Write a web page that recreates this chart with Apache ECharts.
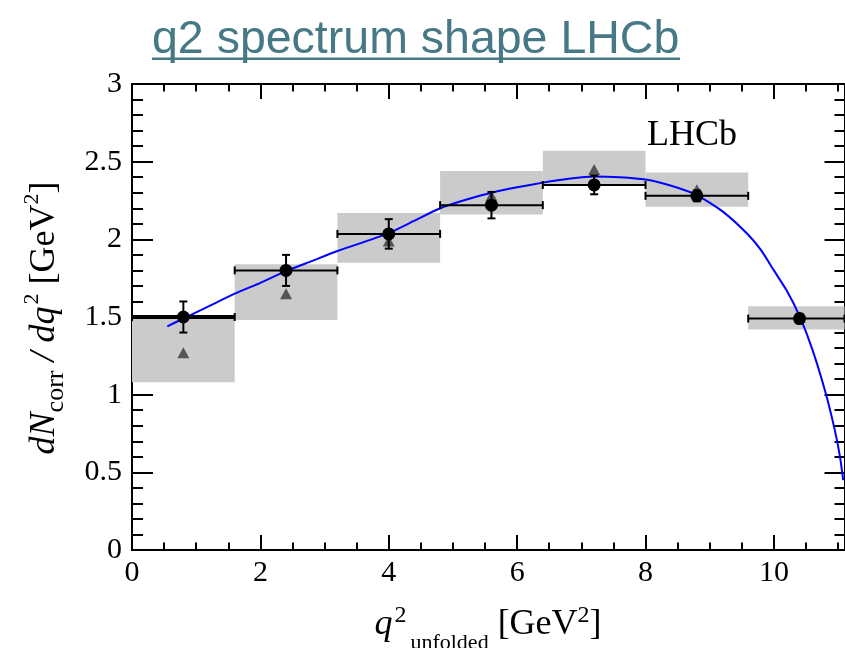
<!DOCTYPE html>
<html>
<head>
<meta charset="utf-8">
<script src="https://cdn.jsdelivr.net/npm/echarts@6/dist/echarts.min.js"></script>
<style>
  html, body { margin: 0; padding: 0; background: #fff; }
  #chart { width: 845px; height: 648px; }
</style>
</head>
<body>
<div id="chart"></div>
<script>
/* ---------- data ---------- */
// q2 bins [GeV^2]
const binLow  = [0, 1.6, 3.2, 4.8, 6.4, 8.0, 9.6];
const binHigh = [1.6, 3.2, 4.8, 6.4, 8.0, 9.6, 11.2];
// unfolded points
const dataX   = [0.8, 2.4, 4.0, 5.6, 7.2, 8.8, 10.4];
const dataY   = [1.50, 1.80, 2.035, 2.22, 2.35, 2.28, 1.49];
const dataErr = [0.10, 0.10, 0.095, 0.085, 0.06, 0.035, 0.03];
// prediction (triangles) and its grey band
const predY    = [1.27, 1.65, 1.99, 2.28, 2.45, 2.32, 1.50];
const bandLow  = [1.08, 1.48, 1.85, 2.16, 2.35, 2.21, 1.42];
const bandHigh = [1.49, 1.84, 2.17, 2.44, 2.57, 2.43, 1.57];
// fit curve
const fitX = [0.55, 0.8, 1.2, 1.6, 2.0, 2.4, 2.8, 3.2, 3.7, 4.0, 4.4, 4.8, 5.2, 5.6, 6.0, 6.4, 6.8, 7.2,
              7.6, 8.0, 8.4, 8.8, 9.2, 9.6, 9.8, 10.0, 10.2, 10.4, 10.6, 10.8, 10.95, 11.03, 11.08];
const fitY = [1.44, 1.49, 1.57, 1.65, 1.72, 1.795, 1.86, 1.925, 1.995, 2.04, 2.12, 2.20, 2.255, 2.30, 2.335, 2.365, 2.39, 2.405,
              2.40, 2.385, 2.345, 2.285, 2.18, 2.03, 1.93, 1.80, 1.67, 1.505, 1.29, 1.02, 0.77, 0.60, 0.45];

const X_MAX = 11.1;
const Y_MAX = 3;
const SERIF = 'Liberation Serif';

/* ---------- helpers ---------- */
const ctx = document.createElement('canvas').getContext('2d');
function textW(t, size, italic) {
  ctx.font = (italic ? 'italic ' : '') + size + 'px "' + SERIF + '"';
  return ctx.measureText(t).width;
}
// lay out pieces of a title (sub/superscripts) along a line, centred on (cx, cy)
function titleGroup(pieces, cx, cy, rotation) {
  let x = 0;
  const kids = [];
  pieces.forEach(p => {
    kids.push({
      type: 'text', x: x, y: p.dy || 0,
      style: {
        text: p.t, fontSize: p.s, fontFamily: SERIF, fontStyle: p.i ? 'italic' : 'normal',
        fill: '#000', align: 'left', verticalAlign: 'middle'
      }
    });
    x += textW(p.t, p.s, p.i) + (p.gap || 0);
  });
  kids.forEach(k => { k.x -= x / 2; });
  return { type: 'group', x: cx, y: cy, rotation: rotation || 0, children: kids };
}

const lineSt = { color: '#000', width: 2 };
function xAxisDef(pos, interval, tickLen, labels) {
  return {
    type: 'value', position: pos, min: 0, max: X_MAX, interval: interval,
    axisLine: { show: interval === 2, onZero: false, lineStyle: lineSt },
    axisTick: { inside: true, length: tickLen, lineStyle: lineSt },
    axisLabel: labels ? {
      show: true, showMaxLabel: false, color: '#000', fontFamily: SERIF, fontSize: 30, margin: 8
    } : { show: false },
    splitLine: { show: false }
  };
}
function yAxisDef(pos, interval, tickLen, labels) {
  return {
    type: 'value', position: pos, min: 0, max: Y_MAX, interval: interval,
    axisLine: { show: interval === 0.5, onZero: false, lineStyle: lineSt },
    axisTick: { inside: true, length: tickLen, lineStyle: lineSt },
    axisLabel: labels ? {
      show: true, color: '#000', fontFamily: SERIF, fontSize: 30, margin: 10
    } : { show: false },
    splitLine: { show: false }
  };
}

/* ---------- series data ---------- */
const bandData = binLow.map((b, i) => [b, binHigh[i], bandLow[i], bandHigh[i]]);
const predData = dataX.map((x, i) => [x, predY[i]]);
const pointData = dataX.map((x, i) => [x, dataY[i]]);
const errData = dataX.map((x, i) => [x, dataY[i], dataErr[i], binLow[i], binHigh[i]]);
const fitData = fitX.map((x, i) => [x, fitY[i]]);

const chart = echarts.init(document.getElementById('chart'));

chart.setOption({
  backgroundColor: '#fff',
  animation: false,
  grid: { left: 132, right: 0.5, top: 84, bottom: 98 },
  xAxis: [
    xAxisDef('bottom', 2, 15, true),
    xAxisDef('bottom', 0.5, 7.5, false),
    xAxisDef('top', 2, 15, false),
    xAxisDef('top', 0.5, 7.5, false)
  ],
  yAxis: [
    yAxisDef('left', 0.5, 21, true),
    yAxisDef('left', 0.1, 11, false),
    yAxisDef('right', 0.5, 20, false),
    yAxisDef('right', 0.1, 10, false)
  ],
  series: [
    {
      // grey band per bin
      type: 'custom', z: 1, data: bandData, encode: { x: [0, 1], y: [2, 3] },
      renderItem: (params, api) => {
        const x1 = Math.min(api.value(1), X_MAX);
        const p0 = api.coord([api.value(0), api.value(3)]);
        const p1 = api.coord([x1, api.value(2)]);
        return { type: 'rect', shape: { x: p0[0], y: p0[1], width: p1[0] - p0[0], height: p1[1] - p0[1] },
                 style: { fill: '#cbcbcb' } };
      }
    },
    {
      type: 'scatter', z: 2, data: predData, symbol: 'triangle', symbolSize: [12, 11],
      itemStyle: { color: '#555', opacity: 1 }
    },
    {
      type: 'line', z: 3, data: fitData, showSymbol: false, smooth: 0.2,
      lineStyle: { color: '#0000ff', width: 2 }
    },
    {
      // error bars: horizontal = bin width, vertical = stat. error
      type: 'custom', z: 4, data: errData, encode: { x: 0, y: 1 },
      renderItem: (params, api) => {
        const x = api.value(0), y = api.value(1), e = api.value(2);
        const x0 = api.value(3), x1 = Math.min(api.value(4), X_MAX);
        const pL = api.coord([x0, y]), pR = api.coord([x1, y]);
        const pT = api.coord([x, y + e]), pB = api.coord([x, y - e]);
        const st = { stroke: '#000', lineWidth: 2 };
        const w = params.dataIndex === 0 ? 4 : 2;
        return {
          type: 'group', children: [
            { type: 'line', shape: { x1: pL[0], y1: pL[1], x2: pR[0], y2: pR[1] }, style: { stroke: '#000', lineWidth: w } },
            { type: 'line', shape: { x1: pL[0], y1: pL[1] - 4, x2: pL[0], y2: pL[1] + 4 }, style: st },
            { type: 'line', shape: { x1: pR[0], y1: pR[1] - 4, x2: pR[0], y2: pR[1] + 4 }, style: st },
            { type: 'line', shape: { x1: pT[0], y1: pT[1], x2: pB[0], y2: pB[1] }, style: st },
            { type: 'line', shape: { x1: pT[0] - 4, y1: pT[1], x2: pT[0] + 4, y2: pT[1] }, style: st },
            { type: 'line', shape: { x1: pB[0] - 4, y1: pB[1], x2: pB[0] + 4, y2: pB[1] }, style: st }
          ]
        };
      }
    },
    {
      type: 'scatter', z: 5, data: pointData, symbol: 'circle', symbolSize: 13,
      itemStyle: { color: '#000', opacity: 1 }
    }
  ],
  graphic: [
    {
      type: 'text', x: 152, y: 40, z: 10,
      style: { text: 'q2 spectrum shape LHCb', fontFamily: 'Liberation Sans', fontSize: 46.5,
               fill: '#467886', verticalAlign: 'middle' }
    },
    {
      type: 'rect', z: 10, shape: { x: 152, y: 57.5, width: 528, height: 2.5 },
      style: { fill: '#467886' }
    },
    {
      type: 'text', x: 647, y: 136, z: 10,
      style: { text: 'LHCb', fontFamily: SERIF, fontSize: 36, fill: '#000', verticalAlign: 'middle' }
    },
    titleGroup([
      { t: 'q', s: 36, i: true, gap: 2 },
      { t: '2', s: 24, dy: -9, gap: 4 },
      { t: 'unfolded', s: 22, dy: 18 },
      { t: ' [GeV', s: 36 },
      { t: '2', s: 24, dy: -9 },
      { t: ']', s: 36 }
    ], 488, 625, 0),
    titleGroup([
      { t: 'dN', s: 36, i: true },
      { t: 'corr', s: 26, dy: 11 },
      { t: ' / ', s: 36, i: true },
      { t: 'dq', s: 36, i: true, gap: 2 },
      { t: '2', s: 22, dy: -13 },
      { t: ' [GeV', s: 36 },
      { t: '2', s: 22, dy: -13 },
      { t: ']', s: 36 }
    ], 45, 318, Math.PI / 2)
  ]
});
</script>
</body>
</html>
